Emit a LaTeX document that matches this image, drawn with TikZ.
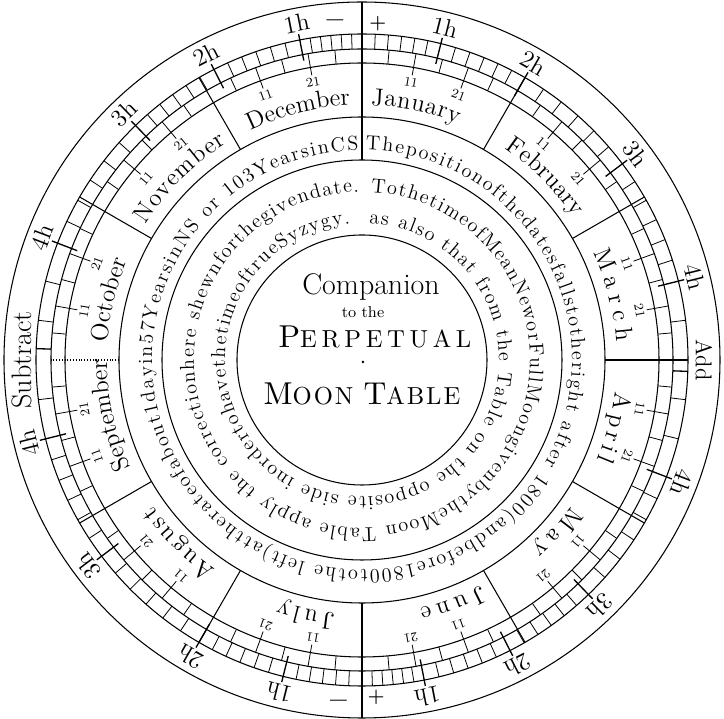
\documentclass[tikz,border=0pt]{standalone}
\usepackage{fontspec}
\usetikzlibrary{decorations.text}
\newfontfamily\spacedrm[LetterSpace=19]{lmroman10-regular.otf}

\tikzset{
  ring/.style={line width=0.6pt},
  divider/.style={line width=0.6pt},
  minortick/.style={line width=0.45pt},
  hourtick/.style={line width=0.75pt},
  hourlbl/.style={font=\fontsize{14}{14}\selectfont, inner sep=0pt},
  daylbl/.style={font=\fontsize{7.5}{7.5}\selectfont, inner sep=0pt},
  signlbl/.style={font=\fontsize{11}{11}\selectfont\bfseries, inner sep=0pt},
}

% text set clockwise along an arc (tops outward); angles from the top
\newcommand{\arctext}[5]{%
  \path[decorate, decoration={text along path, text align={fit to path},
      text={|#4|#5}}]
    (90-#2:#1) arc[start angle=90-#2, end angle=90-#3, radius=#1];%
}

\begin{document}
\begin{tikzpicture}
  \useasboundingbox (-7.24,-7.18) rectangle (7.24,7.2);
  % Rings
  \foreach \r in {7.16,6.52,6.22,5.94,4.86,4.0,2.5}
    \draw[ring] (0,0) circle (\r);
  % Meridian
  \draw[divider] (90:4.0) -- (90:7.16);
  \draw[divider] (-90:4.86) -- (-90:7.16);
  % Month dividers
  \foreach \m in {1,2,3,4,5,7,8,10,11}
    \draw[divider] ({90-30*\m}:4.86) -- ({90-30*\m}:6.52);
  \draw[divider, densely dotted] (180:4.86) -- (180:6.22);
  % Day ticks and day numbers
  \foreach \m in {0,...,11}{
    \foreach \d in {5,15,25}
      \draw[minortick] ({90-30*\m-\d}:5.94) -- ({90-30*\m-\d}:6.22);
    \foreach \d in {10,20}
      \draw[minortick] ({90-30*\m-\d}:5.78) -- ({90-30*\m-\d}:6.22);
    \node[daylbl, rotate={-30*\m-10}] (da\m) at ({80-30*\m}:5.64) {11};
    \node[daylbl, rotate={-30*\m-20}] (db\m) at ({70-30*\m}:5.64) {21};
  }
  % Ten-minute ticks of the hour scale
  \foreach \a/\b in {0/14,14/30,30/53,53/76,111/136,136/153,153/169,169/180}{
    \foreach \k in {1,...,5}{
      \pgfmathsetmacro\t{\a+(\b-\a)*\k/6}
      \draw[minortick] ({90-\t}:6.22) -- ({90-\t}:6.52);
      \draw[minortick] ({-90-\t}:6.22) -- ({-90-\t}:6.52);
    }
  }
  \foreach \t in {83,97,104}{
    \draw[minortick] ({90-\t}:6.22) -- ({90-\t}:6.52);
    \draw[minortick] ({-90-\t}:6.22) -- ({-90-\t}:6.52);
  }
  \draw[hourtick] (-2:6.22) -- (-2:6.52);
  \draw[hourtick] (178:6.22) -- (178:6.52);
  % Hour marks and labels
  \foreach \t/\l [count=\i] in {14/1h,30/2h,53/3h,76/4h,111/4h,136/3h,153/2h,169/1h}{
    \draw[hourtick] ({90-\t}:6.1) -- ({90-\t}:6.64);
    \draw[hourtick] ({-90-\t}:6.1) -- ({-90-\t}:6.64);
    \node[hourlbl, rotate=-\t] (hp\i) at ({90-\t}:6.86) {\l};
    \node[hourlbl, rotate=-\t-180] (hm\i) at ({-90-\t}:6.86) {\l};
  }
  \node[font=\fontsize{13}{13}\selectfont, rotate=-90, inner sep=0pt] (add) at (0:6.84) {Add};
  \node[font=\fontsize{16}{16}\selectfont, rotate=90, inner sep=0pt] (sub) at (180:6.8) {Subtract};
  % Signs
  \node[signlbl] (plusN) at (87.3:6.74) {+};
  \node[signlbl, font=\fontsize{17}{17}\selectfont\bfseries] (minusN) at (94.6:6.74) {--};
  \node[signlbl, rotate=180] (plusS) at (-87.6:6.76) {+};
  \node[signlbl, font=\fontsize{17}{17}\selectfont\bfseries, rotate=180] (minusS) at (-94:6.76) {--};
  % Months
  \arctext{5.1}{2}{22}{\fontsize{14}{14}\selectfont}{January}
  \arctext{5.1}{34}{56}{\fontsize{14}{14}\selectfont}{February}
  \arctext{5.1}{65}{86}{\fontsize{14}{14}\selectfont}{March}
  \arctext{5.1}{97}{113}{\fontsize{14}{14}\selectfont}{April}
  \arctext{5.1}{125}{138}{\fontsize{14}{14}\selectfont}{May}
  \arctext{5.1}{152}{167}{\fontsize{14}{14}\selectfont}{June}
  \arctext{5.1}{186}{199}{\fontsize{14}{14}\selectfont}{July}
  \arctext{5.1}{215}{235}{\fontsize{14}{14}\selectfont}{August}
  \arctext{5.1}{245}{270}{\fontsize{14}{14}\selectfont}{September}
  \arctext{5.1}{274}{292}{\fontsize{14}{14}\selectfont}{October}
  \arctext{5.1}{302}{328}{\fontsize{14}{14}\selectfont}{November}
  \arctext{5.1}{334}{357}{\fontsize{14}{14}\selectfont}{December}
  % Rules round the centre
  \arctext{4.2}{1}{359}{\fontsize{11.5}{11.5}\selectfont}{Thepositionofthedatesfallstotheright after 1800(andbefore1800tothe left)attherateofabout1dayin57YearsinNS or 103YearsinCS}
  \arctext{3.36}{3}{359}{\fontsize{11.5}{11.5}\selectfont}{TothetimeofMeanNeworFullMoongivenbytheMoon Table apply the correctionhere shewnforthegivendate.}
  \arctext{2.74}{3}{355}{\fontsize{11.5}{11.5}\selectfont}{as also that from the Table on the opposite side inordertohavethetimeoftrueSyzygy.}
  % Title
  \node[anchor=base, font=\fontsize{17}{17}\selectfont] (comp) at (0.18,1.3) {Companion};
  \node[anchor=base, font=\fontsize{9}{9}\selectfont] (tothe) at (0.02,0.84) {to the};
  \node[anchor=base] (perp) at (0.26,0.24) {\spacedrm\fontsize{18}{18}\selectfont P\fontsize{14}{14}\selectfont ERPETUAL};
  \node[circle, fill, inner sep=0.6pt] (dot) at (0.02,-0.04) {};
  \node[anchor=base] (moon) at (0,-0.9) {\spacedrm\addfontfeature{LetterSpace=8}\fontsize{18}{18}\selectfont M\fontsize{14}{14}\selectfont OON \fontsize{18}{18}\selectfont T\fontsize{14}{14}\selectfont ABLE};
\end{tikzpicture}
\end{document}
